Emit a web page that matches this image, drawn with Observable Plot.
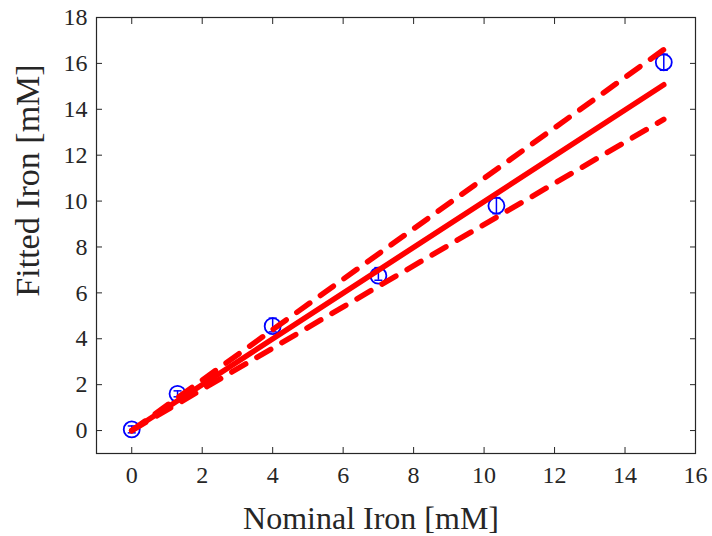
<!DOCTYPE html>
<html><head><meta charset="utf-8">
<script src="https://cdn.jsdelivr.net/npm/d3@7"></script>
<script src="https://cdn.jsdelivr.net/npm/@observablehq/plot@0.6"></script>
<style>
body{margin:0;background:#fff}
</style>
</head><body><div id="chart"></div>
<script>
// ---- data ----
const nominal = [0, 1.3, 4.0, 7.0, 10.35, 15.1];
const fitted  = [0.05, 1.6, 4.55, 6.75, 9.8, 16.05];
const errLow  = [0.15, 0.13, 0.25, 0.2, 0.35, 0.35];
const errHigh = [0.15, 0.13, 0.35, 0.35, 0.35, 0.35];
const fitX    = [0, 15.1];
const fitY    = [0, 15.07];
const upperY  = [0, 16.6];
const lowerY  = [0, 13.56];
const xTicks  = [0, 2, 4, 6, 8, 10, 12, 14, 16];
const yTicks  = [0, 2, 4, 6, 8, 10, 12, 14, 16, 18];
const xLabel  = "Nominal Iron [mM]";
const yLabel  = "Fitted Iron [mM]";

const points = nominal.map((x, i) => ({x, y: fitted[i], lo: fitted[i] - errLow[i], hi: fitted[i] + errHigh[i]}));
const fit = fitX.map((x, i) => ({x, fit: fitY[i], upper: upperY[i], lower: lowerY[i]}));

const capSymbol = {draw(ctx, size) { const w = Math.sqrt(size / Math.PI); ctx.moveTo(-w, 0); ctx.lineTo(w, 0); }};
const axisColor = "#262626";
const red = "#ff0000", blue = "#0000ff";
const serif = "Liberation Serif, Times New Roman, serif";

const chart = Plot.plot({
  width: 712, height: 536,
  marginLeft: 96, marginRight: 17, marginTop: 17, marginBottom: 83,
  x: {domain: [-1, 16]},
  y: {domain: [-1, 18]},
  style: {fontFamily: serif, background: "white", color: axisColor},
  marks: [
    Plot.axisX(xTicks, {anchor: "bottom", tickSize: -6, tickPadding: 18, fontSize: 24, label: null, stroke: axisColor, fill: axisColor}),
    Plot.axisX(xTicks, {anchor: "top", tickSize: -6, tickFormat: () => "", label: null, stroke: axisColor}),
    Plot.axisY(yTicks, {anchor: "left", tickSize: -6, tickPadding: 15, fontSize: 24, label: null, stroke: axisColor, fill: axisColor}),
    Plot.axisY(yTicks, {anchor: "right", tickSize: -6, tickFormat: () => "", label: null, stroke: axisColor}),
    Plot.frame({stroke: axisColor, strokeWidth: 1.2}),
    Plot.ruleX(points, {x: "x", y1: "lo", y2: "hi", stroke: blue, strokeWidth: 1.5}),
    Plot.dot(points, {x: "x", y: "lo", symbol: capSymbol, r: 4, stroke: blue, strokeWidth: 1.5, fill: "none"}),
    Plot.dot(points, {x: "x", y: "hi", symbol: capSymbol, r: 4, stroke: blue, strokeWidth: 1.5, fill: "none"}),
    Plot.dot(points, {x: "x", y: "y", r: 8, stroke: blue, strokeWidth: 1.8, fill: "none"}),
    Plot.line(fit, {x: "x", y: "fit", stroke: red, strokeWidth: 5.5}),
    Plot.line(fit, {x: "x", y: "upper", stroke: red, strokeWidth: 5.5, strokeDasharray: "16,13"}),
    Plot.line(fit, {x: "x", y: "lower", stroke: red, strokeWidth: 5.5, strokeDasharray: "16,13"}),
    Plot.text([xLabel], {text: d => d, frameAnchor: "bottom", textAnchor: "middle", lineAnchor: "top", dy: 53, dx: -25, fontSize: 32, fill: axisColor}),
    Plot.text([yLabel], {text: d => d, frameAnchor: "left", textAnchor: "middle", lineAnchor: "middle", rotate: -90, dx: -68, dy: -55, fontSize: 34, fill: axisColor})
  ]
});
d3.select(chart).selectAll("text, g")
  .each(function() {
    this.style.setProperty("font-family", "'Liberation Serif', 'Times New Roman', serif", "important");
    this.style.setProperty("font-variant", "normal", "important");
  });
document.getElementById("chart").appendChild(chart);
</script>
</body></html>
